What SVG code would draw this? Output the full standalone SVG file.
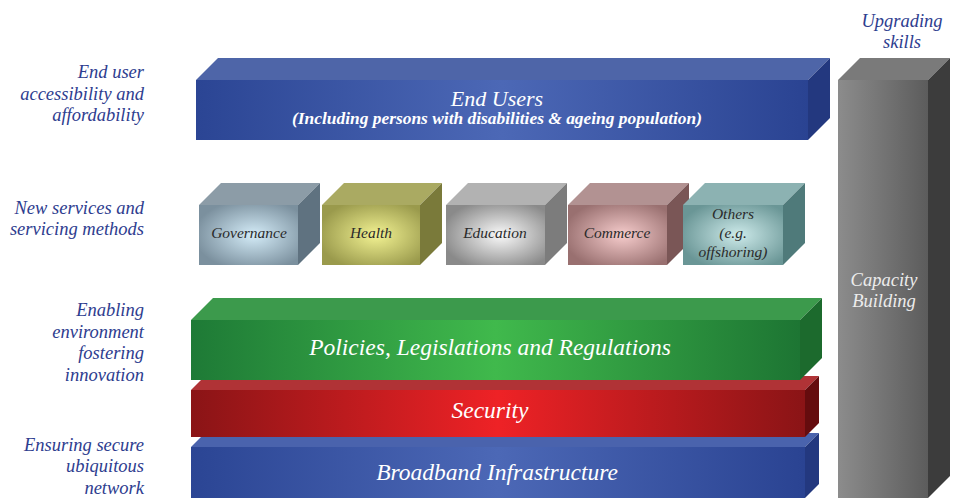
<svg xmlns="http://www.w3.org/2000/svg" width="955" height="498" viewBox="0 0 955 498">
<defs>
<linearGradient id="gBlue" x1="0" x2="1" y1="0" y2="0"><stop offset="0" stop-color="#2b4594"/><stop offset="0.5" stop-color="#4c68b6"/><stop offset="1" stop-color="#2a4392"/></linearGradient>
<linearGradient id="gGreen" x1="0" x2="1" y1="0" y2="0"><stop offset="0" stop-color="#1e7a36"/><stop offset="0.5" stop-color="#40b94c"/><stop offset="1" stop-color="#1d7533"/></linearGradient>
<linearGradient id="gRed" x1="0" x2="1" y1="0" y2="0"><stop offset="0" stop-color="#8a1416"/><stop offset="0.5" stop-color="#ee2226"/><stop offset="1" stop-color="#8a1416"/></linearGradient>
<linearGradient id="gPillar" x1="0" x2="1" y1="0" y2="0"><stop offset="0" stop-color="#8c8c8c"/><stop offset="1" stop-color="#5c5c5c"/></linearGradient>
<radialGradient id="gGov" cx="0.55" cy="0.5" r="0.6"><stop offset="0" stop-color="#d4ecf8"/><stop offset="1" stop-color="#7b909e"/></radialGradient>
<radialGradient id="gHea" cx="0.55" cy="0.5" r="0.6"><stop offset="0" stop-color="#f2f292"/><stop offset="1" stop-color="#9a9a4c"/></radialGradient>
<radialGradient id="gEdu" cx="0.55" cy="0.5" r="0.6"><stop offset="0" stop-color="#fafafa"/><stop offset="1" stop-color="#8a8a8a"/></radialGradient>
<radialGradient id="gCom" cx="0.55" cy="0.5" r="0.6"><stop offset="0" stop-color="#f6cccc"/><stop offset="1" stop-color="#997070"/></radialGradient>
<radialGradient id="gOth" cx="0.55" cy="0.5" r="0.6"><stop offset="0" stop-color="#cdeaea"/><stop offset="1" stop-color="#6a9696"/></radialGradient>
</defs>
<style>
.lbl{font-family:"Liberation Serif","DejaVu Serif",serif;font-style:italic;font-size:18.5px;fill:#2e3d8f;text-anchor:end}
.top-lbl{font-family:"Liberation Serif","DejaVu Serif",serif;font-style:italic;font-size:18.5px;fill:#2e3d8f;text-anchor:middle}
.bar{font-family:"Liberation Serif","DejaVu Serif",serif;font-style:italic;fill:#ffffff;text-anchor:middle}
.box{font-family:"Liberation Serif","DejaVu Serif",serif;font-style:italic;font-size:15.5px;fill:#2a2a2a;text-anchor:middle}
.pil{font-family:"Liberation Serif","DejaVu Serif",serif;font-style:italic;font-size:18.5px;fill:#ececec;text-anchor:middle}
</style>
<rect width="955" height="498" fill="#ffffff"/>

<g id="labels">
<text class="lbl" x="144" y="78">End user</text>
<text class="lbl" x="144" y="100">accessibility and</text>
<text class="lbl" x="144" y="121">affordability</text>
<text class="lbl" x="144" y="214">New services and</text>
<text class="lbl" x="144" y="235">servicing methods</text>
<text class="lbl" x="144" y="316">Enabling</text>
<text class="lbl" x="144" y="338">environment</text>
<text class="lbl" x="144" y="359">fostering</text>
<text class="lbl" x="144" y="381">innovation</text>
<text class="lbl" x="144" y="451">Ensuring secure</text>
<text class="lbl" x="144" y="472">ubiquitous</text>
<text class="lbl" x="144" y="494">network</text>
<text class="top-lbl" x="902" y="27">Upgrading</text>
<text class="top-lbl" x="902" y="48">skills</text>
</g>

<g id="capacity-building">
<polygon points="838,80 860,58 950,58 928,80" fill="#7a7a7a"/>
<polygon points="928,80 950,58 950,476 928,498" fill="#3c3c3c"/>
<rect x="838" y="80" width="90" height="418" fill="url(#gPillar)"/>
<text class="pil" x="884" y="286">Capacity</text>
<text class="pil" x="884" y="307">Building</text>
</g>

<g id="end-users">
<polygon points="196,80 218,58 830,58 808,80" fill="#4e65a8"/>
<polygon points="808,80 830,58 830,118 808,140" fill="#23387f"/>
<rect x="196" y="80" width="612" height="60" fill="url(#gBlue)"/>
<text class="bar" x="497" y="106" font-size="22">End Users</text>
<text class="bar" x="497" y="124" font-size="16" font-weight="bold" textLength="410" lengthAdjust="spacingAndGlyphs">(Including persons with disabilities &amp; ageing population)</text>
</g>

<g id="governance">
<polygon points="199,205 221,183 320,183 298,205" fill="#8c9ca7"/>
<polygon points="298,205 320,183 320,243 298,265" fill="#5f7280"/>
<rect x="199" y="205" width="99" height="60" fill="url(#gGov)"/>
<text class="box" x="249" y="238">Governance</text>
</g>
<g id="health">
<polygon points="322,205 344,183 442,183 420,205" fill="#aaaa62"/>
<polygon points="420,205 442,183 442,243 420,265" fill="#7a7a3a"/>
<rect x="322" y="205" width="98" height="60" fill="url(#gHea)"/>
<text class="box" x="371" y="238">Health</text>
</g>
<g id="education">
<polygon points="446,205 468,183 567,183 545,205" fill="#b2b2b2"/>
<polygon points="545,205 567,183 567,243 545,265" fill="#7c7c7c"/>
<rect x="446" y="205" width="99" height="60" fill="url(#gEdu)"/>
<text class="box" x="495" y="238">Education</text>
</g>
<g id="commerce">
<polygon points="568,205 590,183 689,183 667,205" fill="#b29292"/>
<polygon points="667,205 689,183 689,243 667,265" fill="#7a5656"/>
<rect x="568" y="205" width="99" height="60" fill="url(#gCom)"/>
<text class="box" x="617" y="238">Commerce</text>
</g>
<g id="others">
<polygon points="683,205 705,183 805,183 783,205" fill="#8cb2b2"/>
<polygon points="783,205 805,183 805,243 783,265" fill="#4f7a7a"/>
<rect x="683" y="205" width="100" height="60" fill="url(#gOth)"/>
<text class="box" x="733" y="219">Others</text>
<text class="box" x="733" y="238">(e.g.</text>
<text class="box" x="733" y="257">offshoring)</text>
</g>

<g id="broadband">
<polygon points="191,447 205,433 819,433 805,447" fill="#4a63ad"/>
<polygon points="805,447 819,433 819,484 805,498" fill="#23387f"/>
<rect x="191" y="447" width="614" height="51" fill="url(#gBlue)"/>
<text class="bar" x="497" y="480" font-size="23.5">Broadband Infrastructure</text>
</g>

<g id="security">
<polygon points="191,390 205,376 819,376 805,390" fill="#b03336"/>
<polygon points="805,390 819,376 819,423 805,437" fill="#650c0e"/>
<rect x="191" y="390" width="614" height="47" fill="url(#gRed)"/>
<text class="bar" x="490" y="418" font-size="23.5">Security</text>
</g>

<g id="policies">
<polygon points="191,320 213,298 822,298 800,320" fill="#3c9a4c"/>
<polygon points="800,320 822,298 822,358 800,380" fill="#1c6a2d"/>
<rect x="191" y="320" width="609" height="60" fill="url(#gGreen)"/>
<text class="bar" x="490" y="355" font-size="23.5">Policies, Legislations and Regulations</text>
</g>
</svg>
